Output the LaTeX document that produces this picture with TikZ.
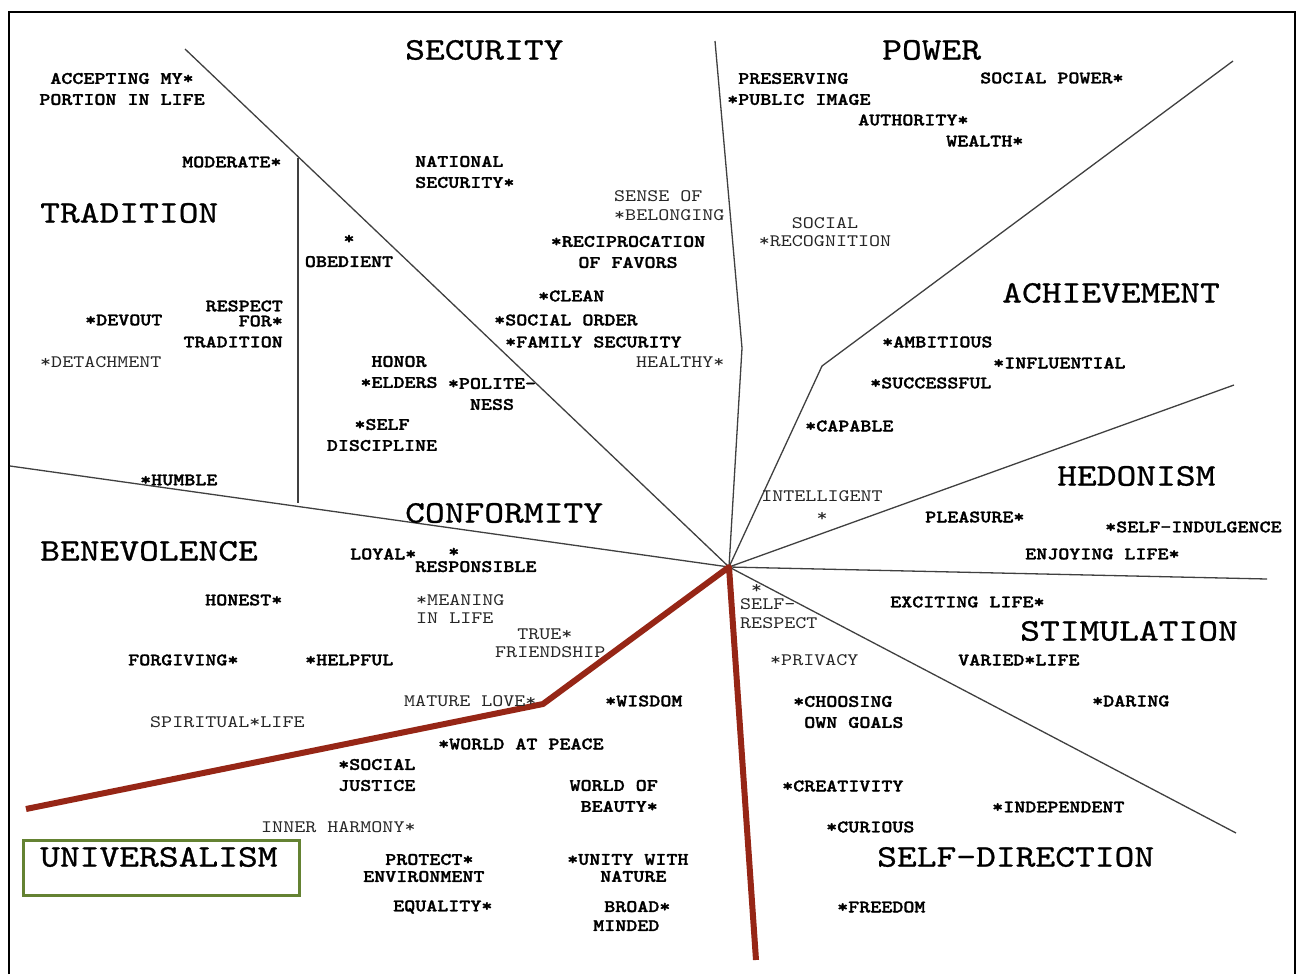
\documentclass[tikz,border=0pt]{standalone}
\usepackage{fontspec}
\newfontfamily\cour[Extension=.otf,BoldFont=lmmonolt10-bold,FakeStretch=1.2,BoldFeatures={FakeBold=1.6}]{lmmono10-regular}
\newfontfamily\courcat[Extension=.otf,FakeStretch=1.2,FakeBold=0.8]{lmmono10-regular}
\definecolor{redc}{RGB}{150,38,22}
\definecolor{boxg}{RGB}{100,130,50}
\begin{document}
\begin{tikzpicture}[x=1pt,y=-1pt,
  itm/.style={font=\cour\bfseries\fontsize{17.5}{21}\selectfont, inner sep=0pt, anchor=west},
  rgl/.style={font=\cour\fontsize{17.5}{21}\selectfont, inner sep=0pt, anchor=west, text=black!85},
  cat/.style={font=\courcat\fontsize{31.4}{38}\selectfont, inner sep=0pt, anchor=west},
  divider/.style={draw=black!75, line width=1.3pt},
  redline/.style={draw=redc, line width=6pt, line join=round},
  frame/.style={draw=black, line width=2.5pt},
  ubox/.style={draw=boxg, line width=3pt}
]
\useasboundingbox (0,0) rectangle (1297,974);
\fill[white] (0,0) rectangle (1297,974);
% frame
\coordinate (f1) at (9,974);
\coordinate (f2) at (9,12);
\coordinate (f3) at (1295,12);
\coordinate (f4) at (1295,974);
\draw[frame] (f1) -- (f2) -- (f3) -- (f4);

% center and divider ends
\coordinate (c) at (729,567);
\coordinate (d1) at (185,49);
\coordinate (v1) at (298,158);
\coordinate (v2) at (298,503);
\coordinate (p1) at (715,41);
\coordinate (p2) at (742,348);
\coordinate (a1) at (1233,61);
\coordinate (a2) at (822,366);
\coordinate (h1) at (1234,385);
\coordinate (s1) at (1267,579);
\coordinate (sd1) at (1236,833);
\coordinate (b1) at (10,466);
\coordinate (r1) at (756,960);
\coordinate (r2) at (543,704);
\coordinate (r3) at (26,809);

\draw[divider] (d1) -- (c);
\draw[divider] (v1) -- (v2);
\draw[divider] (p1) -- (p2) -- (c);
\draw[divider] (a1) -- (a2) -- (c);
\draw[divider] (h1) -- (c);
\draw[divider] (s1) -- (c);
\draw[divider] (sd1) -- (c);
\draw[divider] (b1) -- (c);
\draw[redline] (r1) -- (c) -- (r2) -- (r3);

% universalism box
\coordinate (u1) at (23,840);
\coordinate (u2) at (299,895);
\draw[ubox] (u1) rectangle (u2);

% category labels
\node[cat] (security) at (405,50) {SECURITY};
\node[cat] (power) at (882,50) {POWER};
\node[cat] (tradition) at (40,213) {TRADITION};
\node[cat] (achievement) at (1002,293) {ACHIEVEMENT};
\node[cat] (hedonism) at (1057,476) {HEDONISM};
\node[cat] (conformity) at (405,513) {CONFORMITY};
\node[cat] (benevolence) at (40,551) {BENEVOLENCE};
\node[cat] (stimulation) at (1020,631) {STIMULATION};
\node[cat] (universalism) at (40,857) {UNIVERSALISM};
\node[cat] (selfdirection) at (877,857) {SELF-DIRECTION};

% tradition
\node[itm, anchor=center, align=center] (accepting) at (122,89) {ACCEPTING MY*\\PORTION IN LIFE};
\node[itm] (moderate) at (182,162) {MODERATE*};
\node[itm, anchor=east, align=right] (respect) at (283,324) {RESPECT\\[-6pt]FOR*\\TRADITION};
\node[itm] (devout) at (85,320) {*DEVOUT};
\node[rgl] (detachment) at (40,362) {*DETACHMENT};
\node[itm] (humble) at (140,480) {*HUMBLE};

% conformity
\node[itm, anchor=center, align=center] (obedient) at (349,251) {*\\[2pt]OBEDIENT};
\node[itm, anchor=center, align=center] (honor) at (399,372) {HONOR\\*ELDERS};
\node[itm, anchor=center, align=center] (polite) at (492,394) {*POLITE-\\NESS};
\node[itm, anchor=center, align=center] (selfdisc) at (382,435) {*SELF\\DISCIPLINE};

% security
\node[itm, align=left] (national) at (415,172) {NATIONAL\\SECURITY*};
\node[rgl, align=left] (sense) at (614,206) {SENSE OF\\[-2pt]*BELONGING};
\node[itm, anchor=center, align=center] (recip) at (628,252) {*RECIPROCATION\\OF FAVORS};
\node[itm] (clean) at (538,296) {*CLEAN};
\node[itm] (socorder) at (494,320) {*SOCIAL ORDER};
\node[itm] (famsec) at (505,342) {*FAMILY SECURITY};
\node[rgl] (healthy) at (636,362) {HEALTHY*};

% power
\node[itm, align=left] (preserving) at (727,89) {\hphantom{*}PRESERVING\\*PUBLIC IMAGE};
\node[itm] (socpower) at (980,78) {SOCIAL POWER*};
\node[itm] (authority) at (858,120) {AUTHORITY*};
\node[itm] (wealth) at (946,141) {WEALTH*};
\node[rgl, anchor=center, align=center] (socrecog) at (825,232) {SOCIAL\\[-3pt]*RECOGNITION};

% achievement
\node[itm] (ambitious) at (882,342) {*AMBITIOUS};
\node[itm] (influential) at (993,363) {*INFLUENTIAL};
\node[itm] (successful) at (870,383) {*SUCCESSFUL};
\node[itm] (capable) at (805,426) {*CAPABLE};
\node[rgl, anchor=center, align=center] (intelligent) at (822,506) {INTELLIGENT\\[-1pt]*};

% hedonism
\node[itm] (pleasure) at (925,517) {PLEASURE*};
\node[itm] (selfind) at (1105,527) {*SELF-INDULGENCE};
\node[itm] (enjoying) at (1025,554) {ENJOYING LIFE*};

% benevolence
\node[itm] (loyal) at (350,554) {LOYAL*};
\node[itm, align=left] (responsible) at (415,560) {\hphantom{***}*\\[-6pt]RESPONSIBLE};
\node[itm] (honest) at (205,600) {HONEST*};
\node[rgl, align=left] (meaning) at (416,609) {*MEANING\\[-3pt]IN LIFE};
\node[rgl, align=left] (friend) at (495,643) {\hphantom{**}TRUE*\\[-3pt]FRIENDSHIP};
\node[itm] (forgiving) at (128,660) {FORGIVING*};
\node[itm] (helpful) at (305,660) {*HELPFUL};
\node[rgl] (mature) at (404,701) {MATURE LOVE*};
\node[rgl] (spiritual) at (150,722) {SPIRITUAL*LIFE};

% universalism
\node[itm] (wisdom) at (605,701) {*WISDOM};
\node[itm] (peace) at (438,744) {*WORLD AT PEACE};
\node[itm, align=left] (justice) at (338,775) {*SOCIAL\\JUSTICE};
\node[itm, anchor=east, align=right] (beauty) at (658,796) {WORLD OF\\BEAUTY*};
\node[rgl] (harmony) at (261,827) {INNER HARMONY*};
\node[itm, align=left] (protect) at (363,868) {\hphantom{**}PROTECT*\\[-4pt]ENVIRONMENT};
\node[itm, align=left] (unity) at (567,868) {*UNITY WITH\\[-4pt]\hphantom{***}NATURE};
\node[itm] (equality) at (393,907) {EQUALITY*};
\node[itm, align=left] (broad) at (593,916) {\hphantom{*}BROAD*\\[-2pt]MINDED};

% self-direction / stimulation
\node[rgl, align=left] (selfrespect) at (740,607) {\hphantom{*}*\\[-5pt]SELF-\\[-2pt]RESPECT};
\node[itm] (exciting) at (890,602) {EXCITING LIFE*};
\node[rgl] (privacy) at (770,660) {*PRIVACY};
\node[itm] (varied) at (958,660) {VARIED*LIFE};
\node[itm, align=left] (choosing) at (793,712) {*CHOOSING\\\hphantom{*}OWN GOALS};
\node[itm] (daring) at (1092,701) {*DARING};
\node[itm] (creativity) at (782,786) {*CREATIVITY};
\node[itm] (independent) at (992,807) {*INDEPENDENT};
\node[itm] (curious) at (826,827) {*CURIOUS};
\node[itm] (freedom) at (837,907) {*FREEDOM};
\end{tikzpicture}
\end{document}
